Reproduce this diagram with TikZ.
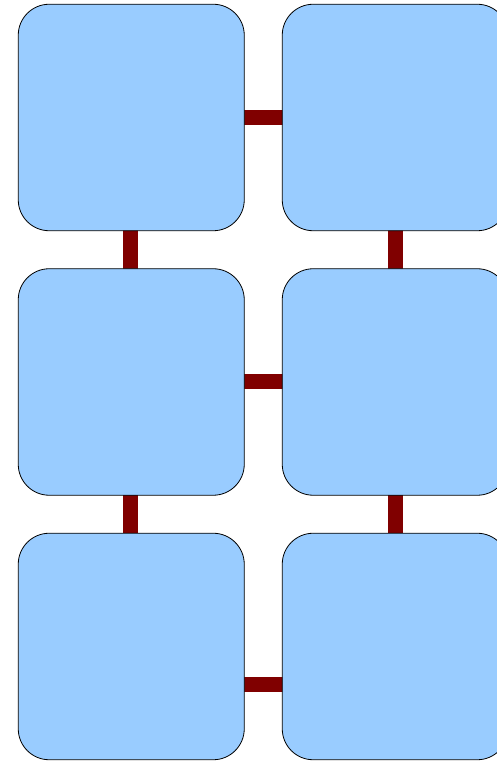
\documentclass[tikz,border=0pt]{standalone}
\usetikzlibrary{backgrounds}
\definecolor{boxfill}{HTML}{99CCFF}
\definecolor{linkred}{HTML}{800000}
\tikzset{
  tile/.style={draw=black, line width=0.8pt, fill=boxfill, rectangle, rounded corners=31pt,
    minimum width=226pt, minimum height=226.5pt, inner sep=0pt, outer sep=0pt},
  link/.style={draw=linkred, line width=15pt}
}
\begin{document}
\begin{tikzpicture}[x=1pt,y=1pt]
\useasboundingbox (0,0) rectangle (496,762);
\node[tile] (a) at (131.25,644.5) {};
\node[tile] (b) at (395.25,644.5) {};
\node[tile] (c) at (131.25,380) {};
\node[tile] (d) at (395.25,380) {};
\node[tile] (e) at (131.25,115.5) {};
\node[tile] (f) at (395.25,115.5) {};
\begin{scope}[on background layer]
\draw[link] (a.center) -- (b.center);
\draw[link] (c.center) -- (d.center);
\draw[link] ([yshift=-38pt]e.center) -- ([yshift=-38pt]f.center);
\draw[link] ([xshift=-0.5pt]a.center) -- ([xshift=-0.5pt]c.center);
\draw[link] ([xshift=-0.5pt]c.center) -- ([xshift=-0.5pt]e.center);
\draw[link] (b.center) -- (d.center);
\draw[link] (d.center) -- (f.center);
\end{scope}
\end{tikzpicture}
\end{document}
